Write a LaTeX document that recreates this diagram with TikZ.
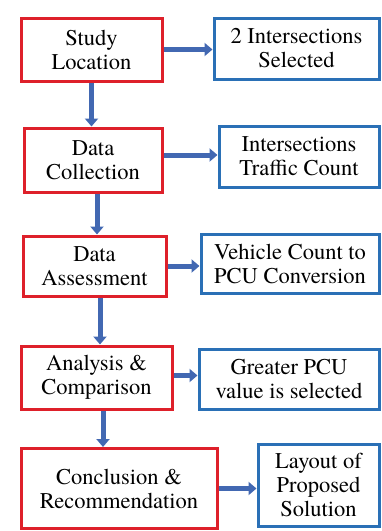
\documentclass[tikz,border=0pt]{standalone}
\usepackage{fontspec}
\setmainfont{TeX Gyre Termes}
\usetikzlibrary{arrows.meta}
\definecolor{boxred}{RGB}{222,32,42}
\definecolor{boxblue}{RGB}{42,112,182}
\definecolor{flowblue}{RGB}{66,104,178}
\tikzset{
  stage/.style={draw=boxred, line width=3pt, align=center, inner sep=0pt},
  result/.style={draw=boxblue, line width=3pt, align=center, inner sep=0pt},
  flow/.style={->, draw=flowblue, line width=5pt},
}
\begin{document}
\begin{tikzpicture}[x=1pt, y=-1pt, >={Triangle[length=8pt,width=13pt]},
  font=\rmfamily\fontsize{22.5}{24}\selectfont]
\useasboundingbox (0,0) rectangle (382,531);
% left column: stages
\node[stage, minimum width=141pt, minimum height=63pt] (study) at (91.5,49.5) {Study\\Location};
\node[stage, minimum width=138pt, minimum height=64pt] (coll) at (93,160) {Data\\Collection};
\node[stage, minimum width=143pt, minimum height=60pt] (assess) at (94.5,266) {Data\\Assessment};
\node[stage, minimum width=151pt, minimum height=63pt] (anal) at (96.5,377.5) {Analysis \&\\Comparison};
\node[stage, minimum width=196pt, minimum height=80pt] (concl) at (119,488.5) {Conclusion \&\\Recommendation};
% right column: results
\node[result, minimum width=165pt, minimum height=61pt] (sel) at (296.5,48.5) {2 Intersections\\Selected};
\node[result, minimum width=160pt, minimum height=61pt] (count) at (299,156.5) {Intersections\\Traffic Count};
\node[result, minimum width=178pt, minimum height=59pt] (pcu) at (290,263.5) {Vehicle Count to\\PCU Conversion};
\node[result, minimum width=180pt, minimum height=60pt] (great) at (289,379) {Greater PCU\\value is selected};
\node[result, minimum width=121pt, minimum height=82pt] (lay) at (318.5,485) {Layout of\\Proposed\\Solution};

% down the stages
\draw[flow] (study.south) -- (study.south |- coll.north);
\draw[flow] ([xshift=4pt]coll.south) -- ([xshift=4pt]coll.south |- assess.north);
\draw[flow] ([xshift=5.5pt]assess.south) -- ([xshift=5.5pt]assess.south |- anal.north);
\draw[flow] ([xshift=6.5pt]anal.south) -- ([xshift=6.5pt]anal.south |- concl.north);
% across to the results
\draw[flow] (study.east) -- (study.east -| sel.west);
\draw[flow] ([yshift=5pt]coll.east) -- ([yshift=5pt]coll.east -| count.west);
\draw[flow] (assess.east) -- (assess.east -| pcu.west);
\draw[flow] ([yshift=2pt]anal.east) -- ([yshift=2pt]anal.east -| great.west);
\draw[flow] (concl.east) -- (concl.east -| lay.west);
\end{tikzpicture}
\end{document}
